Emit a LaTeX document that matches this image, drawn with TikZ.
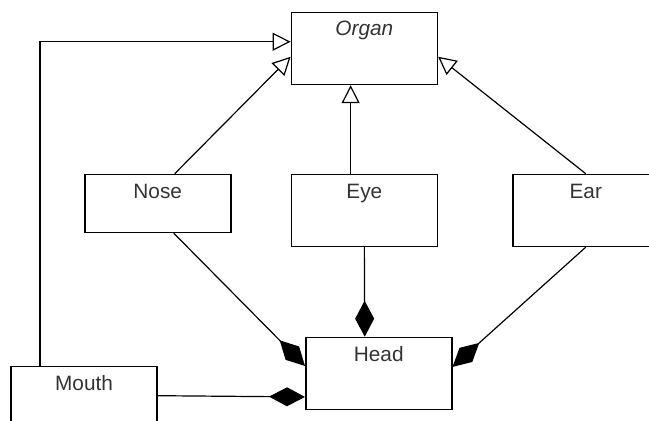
\documentclass[tikz,border=0pt]{standalone}
\usepackage{fontspec}
\setmainfont{Liberation Sans}
\usetikzlibrary{arrows.meta}
\tikzset{
  classbox/.style={draw, line width=0.75pt, anchor=north west, minimum width=73pt,
    inner sep=0pt, text height=12pt, text depth=24pt, text=black!80,
    font=\fontsize{10.4}{12}\selectfont},
  inherit/.style={-{Triangle[open, length=9pt, width=9pt, fill=white]}, line width=0.6pt},
  compose/.style={-{Diamond[length=18pt, width=9.5pt]}, line width=0.6pt}
}

\begin{document}
\begin{tikzpicture}[x=0.5pt, y=-0.5pt]
\useasboundingbox (0,0) rectangle (649,421);
% classes
\node[classbox, text height=11.5pt, text depth=24.5pt] (organ) at (290.6, 11.7) {\itshape Organ};
\node[classbox, text depth=17pt] (nose) at (84, 173.7) {Nose};
\node[classbox] (eye) at (290.6, 173.7) {Eye};
\node[classbox] (ear) at (512, 173.7) {Ear};
\node[classbox] (head) at (305, 336.7) {Head};
\node[classbox] (mouth) at (10.3, 366) {Mouth};
% generalisation
\draw[inherit] ([xshift=14.85pt]mouth.north west) |- ([yshift=3.35pt]organ.west);
\draw[inherit] ([xshift=8.5pt]nose.north) -- ([yshift=-4.15pt]organ.west);
\draw[inherit] ([xshift=-6.85pt]eye.north) -- ([xshift=-6.85pt]organ.south);
\draw[inherit] (ear.north) -- ([yshift=-4.15pt]organ.east);
% composition
\draw[compose] ([xshift=8pt]nose.south) -- ([yshift=3.75pt]head.west);
\draw[compose] (eye.south) -- ([xshift=-7pt]head.north);
\draw[compose] (ear.south) -- ([yshift=3.25pt]head.east);
\draw[compose] ([yshift=-14.85pt]mouth.north east) -- ([yshift=-11.75pt]head.west);
\end{tikzpicture}
\end{document}
